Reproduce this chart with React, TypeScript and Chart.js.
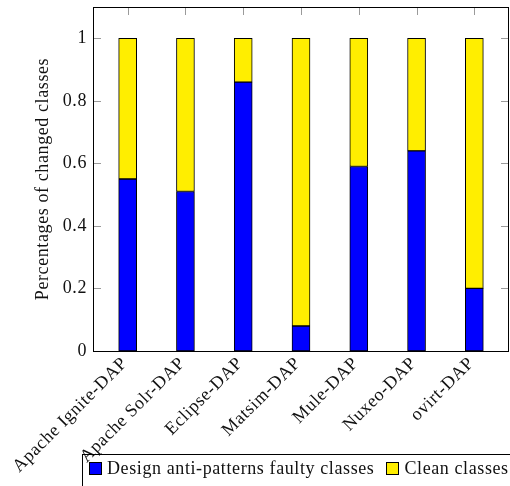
import React, { useEffect, useRef } from "react";
import { Chart, registerables } from "chart.js";

Chart.register(...registerables);

const categories = [
  "Apache Ignite-DAP",
  "Apache Solr-DAP",
  "Eclipse-DAP",
  "Matsim-DAP",
  "Mule-DAP",
  "Nuxeo-DAP",
  "ovirt-DAP",
];
const faultyValues = [0.55, 0.51, 0.86, 0.08, 0.59, 0.64, 0.2];
const cleanValues = [0.45, 0.49, 0.14, 0.92, 0.41, 0.36, 0.8];
const yTickValues = [0, 0.2, 0.4, 0.6, 0.8, 1];
const seriesNames = ["Design anti-patterns faulty classes", "Clean classes"];

const FONT = "'Liberation Serif', 'Times New Roman', serif";
const FS = 18;
const LS = "0.6px";
const BLUE = "#0000ff";
const YELLOW = "#ffee00";

const frame = {
  id: "frame",
  beforeDraw(chart: any) {
    try {
      chart.ctx.letterSpacing = LS;
    } catch (e) {}
  },
  beforeDatasetsDraw(chart: any) {
    const { ctx, chartArea } = chart;
    const { left, right, top, bottom } = chartArea;
    const xs = chart.scales.x;
    const ys = chart.scales.y;
    const L = 8;
    ctx.save();
    ctx.strokeStyle = "#9a9a9a";
    ctx.lineWidth = 1;
    ctx.beginPath();
    yTickValues.forEach((v) => {
      const y = Math.round(ys.getPixelForValue(v)) + 0.5;
      ctx.moveTo(left, y);
      ctx.lineTo(left + L, y);
      ctx.moveTo(right, y);
      ctx.lineTo(right - L, y);
    });
    categories.forEach((_, i) => {
      const x = Math.round(xs.getPixelForValue(i)) + 0.5;
      ctx.moveTo(x, top);
      ctx.lineTo(x, top + L);
      ctx.moveTo(x, bottom);
      ctx.lineTo(x, bottom - L);
    });
    ctx.stroke();
    ctx.restore();
  },
  afterDatasetsDraw(chart: any) {
    const { ctx, chartArea } = chart;
    const { left, right, top, bottom } = chartArea;
    ctx.save();
    ctx.strokeStyle = "#000";
    ctx.lineWidth = 1;
    ctx.strokeRect(Math.round(left) + 0.5, Math.round(top) + 0.5, Math.round(right - left) - 1, Math.round(bottom - top));
    ctx.restore();
  },
};

export default function App() {
  const ref = useRef<HTMLCanvasElement>(null);

  useEffect(() => {
    if (!ref.current) return;
    const chart = new Chart(ref.current, {
      type: "bar",
      data: {
        datasets: [
          {
            label: seriesNames[0],
            data: faultyValues.map((v, i) => ({ x: i, y: v })),
            backgroundColor: BLUE,
            borderColor: "#000",
            borderWidth: 1,
            borderSkipped: false,
            barThickness: 18,
          },
          {
            label: seriesNames[1],
            data: cleanValues.map((v, i) => ({ x: i, y: v })),
            backgroundColor: YELLOW,
            borderColor: "#000",
            borderWidth: 1,
            borderSkipped: false,
            barThickness: 18,
          },
        ],
      },
      options: {
        responsive: false,
        animation: false,
        layout: { padding: { left: 0, right: 1, top: 7, bottom: 0 } },
        plugins: { legend: { display: false }, tooltip: { enabled: false } },
        scales: {
          x: {
            type: "linear",
            stacked: true,
            min: -0.6,
            max: 6.6,
            offset: false,
            grid: { display: false, drawTicks: false },
            border: { display: false },
            afterBuildTicks: (scale: any) => {
              scale.ticks = categories.map((_, i) => ({ value: i }));
            },
            afterFit: (scale: any) => {
              scale.height = 135;
              scale.paddingLeft = 0;
              scale.paddingRight = 0;
            },
            ticks: {
              autoSkip: false,
              minRotation: 45,
              maxRotation: 45,
              padding: 2,
              labelOffset: -3,
              color: "#111",
              font: { family: FONT, size: FS },
              callback: (v: any) => categories[Math.round(Number(v))] ?? "",
            },
          },
          y: {
            stacked: true,
            min: 0,
            max: 1.1,
            grid: { display: false, drawTicks: false },
            border: { display: false },
            afterBuildTicks: (scale: any) => {
              scale.ticks = yTickValues.map((v) => ({ value: v }));
            },
            afterFit: (scale: any) => {
              scale.width = 93;
              scale.paddingTop = 0;
              scale.paddingBottom = 0;
            },
            ticks: {
              padding: 6,
              color: "#111",
              font: { family: FONT, size: FS },
              callback: (v: any) => String(Math.round(Number(v) * 10) / 10),
            },
            title: {
              display: true,
              text: "Percentages of changed classes",
              color: "#111",
              font: { family: FONT, size: FS },
              padding: { top: 32, bottom: 0 },
            },
          },
        },
      },
      plugins: [frame],
    });
    return () => chart.destroy();
  }, []);

  const swatch = (c: string): React.CSSProperties => ({
    display: "inline-block",
    width: 11,
    height: 11,
    background: c,
    border: "1px solid #000",
    marginRight: 5,
    verticalAlign: "-1px",
  });

  return (
    <div style={{ position: "fixed", left: 0, top: 0, width: 510, height: 486, overflow: "hidden", background: "#fff" }}>
      <canvas ref={ref} width={510} height={486} style={{ display: "block" }} />
      <div
        style={{
          position: "absolute",
          left: 82,
          top: 454,
          height: 60,
          width: 500,
          border: "1px solid #000",
          boxSizing: "border-box",
          whiteSpace: "nowrap",
          fontFamily: FONT,
          fontSize: FS,
          letterSpacing: LS,
          color: "#111",
          paddingLeft: 6,
          paddingTop: 3,
        }}
      >
        <span style={swatch(BLUE)} />
        <span>{seriesNames[0]}</span>
        <span style={{ ...swatch(YELLOW), marginLeft: 12 }} />
        <span>{seriesNames[1]}</span>
      </div>
    </div>
  );
}
